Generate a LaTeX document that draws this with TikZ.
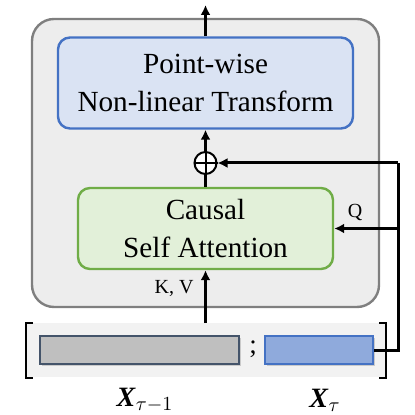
\documentclass[tikz,border=0pt]{standalone}
\usepackage{fontspec}
\usepackage{amsmath,amsbsy}
\setmainfont{Liberation Serif}
\usetikzlibrary{arrows.meta,shadows}
\definecolor{boxgray}{HTML}{EDEDED}
\definecolor{edgegray}{HTML}{7F7F7F}
\definecolor{ptblue}{HTML}{DAE3F3}
\definecolor{ptedge}{HTML}{4472C4}
\definecolor{attgreen}{HTML}{E2F0D9}
\definecolor{attedge}{HTML}{70AD47}
\definecolor{bargray}{HTML}{BFBFBF}
\definecolor{baredge}{HTML}{44546A}
\definecolor{barblue}{HTML}{8FAADC}
\tikzset{
  block/.style={rounded corners=6pt,line width=1.2pt,align=center,
    font=\fontsize{14.6}{19}\selectfont,inner sep=0pt},
  bar/.style={line width=1.3pt,minimum height=14pt,inner sep=0pt,
    drop shadow={opacity=0.35,shadow xshift=1.2pt,shadow yshift=-1.2pt}},
  flow/.style={line width=1.5pt,-{Latex[length=5pt,width=5pt]}},
  tag/.style={font=\fontsize{10}{12}\selectfont}
}
\begin{document}
\begin{tikzpicture}[x=0.5pt,y=-0.5pt]
    \useasboundingbox (0,0) rectangle (415,415);
    % encoder block
    \draw[fill=boxgray,draw=edgegray,line width=1.2pt,rounded corners=11pt]
      (32,19) rectangle (379,307);
    \node[block,fill=ptblue,draw=ptedge,minimum width=147.5pt,minimum height=45.5pt]
      (ffn) at (205.5,83) {Point-wise\\Non-linear Transform};
    \node[block,fill=attgreen,draw=attedge,minimum width=127.5pt,minimum height=40.5pt]
      (att) at (205.5,228.5) {Causal\\Self Attention};
    \node[circle,draw,fill=white,line width=1pt,minimum size=11pt,inner sep=0pt]
      (add) at (205.5,163) {};
    \draw[line width=1pt] (add.north) -- (add.south) (add.west) -- (add.east);
    % input sequence
    \fill[black!5] (27,323) rectangle (386,377);
    \draw[line width=1pt] (33,323) -- (26,323) -- (26,378) -- (33,378);
    \draw[line width=1pt] (379,323) -- (386,323) -- (386,378) -- (379,378);
    \node[bar,fill=bargray,draw=baredge,minimum width=99.5pt] (past) at (139.5,350) {};
    \node[bar,fill=barblue,draw=ptedge,minimum width=54pt] (cur) at (319,350) {};
    \node[font=\fontsize{13.5}{16}\selectfont] (semi) at (253,349) {;};
    \node[font=\fontsize{14}{16}\selectfont] (xprev) at (145,400)
      {\textbf{\textit{X}}$_{\tau-1}$};
    \node[font=\fontsize{14}{16}\selectfont] (xcur) at (325,400)
      {\textbf{\textit{X}}$_{\tau}$};
    % connectors
    \coordinate (kv) at (205.5,323);
    \coordinate (turn) at (398,350);
    \coordinate (qin) at (398,228.5);
    \coordinate (res) at (398,163);
    \coordinate (out) at (205.5,5);
    \draw[flow] (kv) -- (att.south);
    \node[tag] (kvlab) at (174,288) {K, V};
    \draw[line width=1.5pt] (cur.east) -- (turn) -- (res);
    \draw[flow] (qin) -- (att.east);
    \node[tag] (qlab) at (355,213) {Q};
    \draw[flow] (res) -- (add.east);
    \draw[line width=1.5pt] (att.north) -- (add.south);
    \draw[flow] (add.north) -- (ffn.south);
    \draw[flow] (ffn.north) -- (out);
  \end{tikzpicture}
\end{document}
